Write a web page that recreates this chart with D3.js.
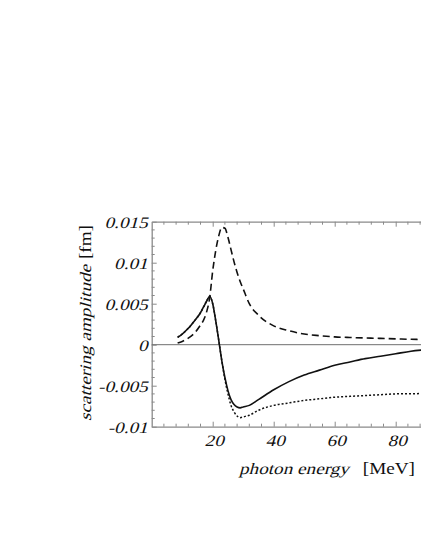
<!DOCTYPE html>
<html><head><meta charset="utf-8">
<script src="https://cdn.jsdelivr.net/npm/d3@7"></script>
<style>body{margin:0;background:#fff}svg{display:block}</style>
</head><body>
<svg id="c" width="421" height="545"></svg>
<script>
// photon energy [MeV]
const energy = [8.5,10,12,14,16,17,18,19,20,21,22,23,24,25,26,27,28,29,30,32,35,40,45,50,55,60,65,70,75,80,85,90,95,100];
// solid curve
const solidAmp = [0.0009,0.0013,0.0020,0.0029,0.0039,0.0046,0.0053,0.0059,0.0050,0.0029,0.0005,-0.0020,-0.0040,-0.0056,-0.0067,-0.0073,-0.0076,-0.0077,-0.0076,-0.0074,-0.0067,-0.0055,-0.0045,-0.0037,-0.0031,-0.0025,-0.0021,-0.0017,-0.0014,-0.0011,-0.0008,-0.0006,-0.0004,-0.0003];
// dashed curve
const dashedAmp = [0.0002,0.0004,0.0008,0.0014,0.0024,0.0030,0.0040,0.0057,0.0090,0.0115,0.0133,0.0143,0.0142,0.0131,0.0116,0.0101,0.0088,0.0077,0.0068,0.0050,0.0036,0.0023,0.0017,0.0013,0.0011,0.00095,0.00088,0.00082,0.00077,0.00071,0.00066,0.00062,0.00058,0.00055];
// dotted curve
const dottedAmp = [0.0009,0.0013,0.0020,0.0029,0.0039,0.0046,0.0053,0.0059,0.0050,0.0029,0.0005,-0.0020,-0.0042,-0.0060,-0.0074,-0.0082,-0.0087,-0.0089,-0.0088,-0.0086,-0.0080,-0.0074,-0.0071,-0.0068,-0.0066,-0.0064,-0.0063,-0.0062,-0.0061,-0.0060,-0.00598,-0.00595,-0.00592,-0.0059];

const xTickLabels = [20,40,60,80];
const yTickLabels = [-0.01,-0.005,0,0.005,0.01,0.015];
const yTickText = ["-0.01","-0.005","0","0.005","0.01","0.015"];
const xTitle = "photon energy";
const xUnit = "[MeV]";
const yTitle = "scattering amplitude";
const yUnit = "[fm]";

const svg = d3.select("#c");
const L = 151.7, T = 221.7, H = 205, W = 305;
const x = d3.scaleLinear().domain([0,100]).range([L, L+W]);
const y = d3.scaleLinear().domain([-0.01,0.015]).range([T+H, T]);
const axisColor = "#8a8a8a";
const SX = 1.2;          // horizontal stretch of the glyphs
const SKEW = -13;        // oblique (no serif italic face installed)
const FONT = "'Liberation Serif','Times New Roman',serif";

function styleText(sel){
  sel.style("font-family",FONT).style("font-style","normal").attr("font-size",16).attr("fill","#111");
}
function oblique(sel){
  sel.each(function(){
    const t = d3.select(this);
    const tx = +t.attr("x")||0, ty = +t.attr("y")||0;
    t.attr("transform", `translate(${tx},${ty}) scale(${SX},1) skewX(${SKEW})`).attr("x",0).attr("y",0);
  });
}

// minor ticks
const xMinor = d3.range(0, 101, 4).filter(v => v % 20 !== 0);
const yMinor = d3.range(-10, 16, 1).filter(v => v % 5 !== 0).map(v => v/1000);

const gMinor = svg.append("g").attr("stroke", axisColor).attr("stroke-width",1);
xMinor.forEach(v => {
  gMinor.append("line").attr("x1",x(v)).attr("x2",x(v)).attr("y1",T+H).attr("y2",T+H-3);
  gMinor.append("line").attr("x1",x(v)).attr("x2",x(v)).attr("y1",T).attr("y2",T+3);
});
yMinor.forEach(v => {
  gMinor.append("line").attr("x1",L).attr("x2",L+3).attr("y1",y(v)).attr("y2",y(v));
});

// bottom axis
const xAxis = d3.axisBottom(x).tickValues(xTickLabels).tickSizeInner(-5).tickSizeOuter(0).tickPadding(12).tickFormat(d3.format("d"));
const gx = svg.append("g").attr("transform",`translate(0,${T+H})`).call(xAxis);
gx.attr("font-family",null).attr("font-size",null);
gx.select(".domain").attr("stroke",axisColor).attr("stroke-width",1.3);
gx.selectAll(".tick line").attr("stroke",axisColor);
gx.selectAll("text").call(styleText).attr("dy",null).attr("x",1).attr("y",19);
oblique(gx.selectAll("text"));

// top axis
const gt = svg.append("g").attr("transform",`translate(0,${T})`).call(d3.axisTop(x).tickValues(xTickLabels).tickSizeInner(-5).tickSizeOuter(0).tickFormat(""));
gt.select(".domain").attr("stroke",axisColor).attr("stroke-width",1.3);
gt.selectAll(".tick line").attr("stroke",axisColor);

// left axis
const yAxis = d3.axisLeft(y).tickValues(yTickLabels).tickSizeInner(-5).tickSizeOuter(0).tickPadding(4).tickFormat((d,i) => yTickText[i]);
const gy = svg.append("g").attr("transform",`translate(${L},0)`).call(yAxis);
gy.attr("font-family",null).attr("font-size",null);
gy.select(".domain").attr("stroke",axisColor).attr("stroke-width",1.3);
gy.selectAll(".tick line").attr("stroke",axisColor);
gy.selectAll("text").call(styleText).attr("x",-4).attr("dy",null).attr("y",5.5);
oblique(gy.selectAll("text"));

// zero line
svg.append("line").attr("x1",L).attr("x2",L+W).attr("y1",y(0)).attr("y2",y(0)).attr("stroke","#6e6e6e").attr("stroke-width",1);

const line = vals => d3.line().x((d,i)=>x(energy[i])).y(d=>y(d)).curve(d3.curveMonotoneX)(vals);

svg.append("path").attr("d",line(dottedAmp)).attr("fill","none").attr("stroke","#111").attr("stroke-width",1.5).attr("stroke-dasharray","2,2");
svg.append("path").attr("d",line(dashedAmp)).attr("fill","none").attr("stroke","#111").attr("stroke-width",1.6).attr("stroke-dasharray","7,4");
svg.append("path").attr("d",line(solidAmp)).attr("fill","none").attr("stroke","#111").attr("stroke-width",1.6);

// x title
svg.append("text").call(styleText).attr("transform",`translate(239,474) scale(${SX},1) skewX(${SKEW})`).text(xTitle);
svg.append("text").call(styleText).attr("text-anchor","end").attr("transform",`translate(415,474) scale(${SX},1)`).text(xUnit);

// y title (rotated)
svg.append("text").call(styleText).attr("transform",`translate(91,421) rotate(-90) scale(${SX},1) skewX(${SKEW})`).text(yTitle);
svg.append("text").call(styleText).attr("text-anchor","end").attr("transform",`translate(91,225) rotate(-90) scale(${SX},1)`).text(yUnit);
</script>
</body></html>
